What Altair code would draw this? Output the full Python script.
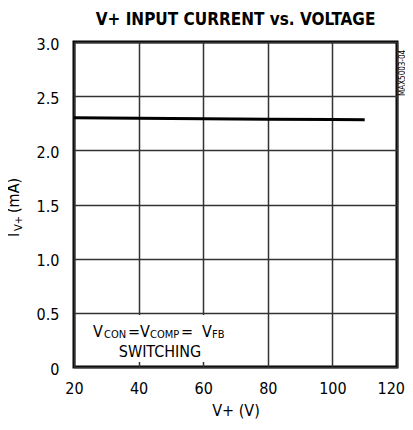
import altair as alt
import pandas as pd

# data
voltage = [20, 40, 60, 80, 100, 110]
current = [2.30, 2.296, 2.292, 2.288, 2.284, 2.282]

x_ticks = [20, 40, 60, 80, 100, 120]
y_ticks = [0, 0.5, 1.0, 1.5, 2.0, 2.5, 3.0]

df = pd.DataFrame({"v": voltage, "i": current})
one = pd.DataFrame({"a": [0]})

FONT = "Liberation Sans Narrow, DejaVu Sans Condensed, Roboto Condensed, Liberation Sans, sans-serif"
W, H = 323, 325

base = alt.Chart(df)

line = base.mark_line(color="black", strokeWidth=3).encode(
    x=alt.X("v:Q", scale=alt.Scale(domain=[20, 120], nice=False),
            axis=alt.Axis(values=x_ticks, title="V+ (V)", grid=True, ticks=False,
                          domain=False, labelFont=FONT, labelFontSize=16,
                          labelPadding=13, labelFlush=False,
                          labelExpr="datum.value == 120 ? '' : datum.label",
                          titleFont=FONT, titleFontSize=16,
                          titleFontWeight="normal", titlePadding=6,
                          labelColor="black", titleColor="black",
                          gridColor="#333", gridWidth=1.5)),
    y=alt.Y("i:Q", scale=alt.Scale(domain=[0, 3], nice=False),
            axis=alt.Axis(values=y_ticks, title=None, grid=True, ticks=False,
                          domain=False, labelFont=FONT, labelFontSize=16,
                          labelPadding=15, labelFlush=False, labelOffset=2,
                          labelColor="black",
                          labelExpr="datum.value == 0 ? '0' : format(datum.value, '.1f')",
                          gridColor="#333", gridWidth=1.5)),
)

# white box behind the annotation text
box = alt.Chart(one).mark_rect(color="white").encode(
    x=alt.value(14), x2=alt.value(156), y=alt.value(273), y2=alt.value(320)
)

def txt(s, x, y, size, angle=0, align="left", baseline="alphabetic"):
    return alt.Chart(one).mark_text(
        text=s, font=FONT, fontSize=size, align=align, baseline=baseline,
        angle=angle, color="black"
    ).encode(x=alt.value(x), y=alt.value(y))

ox, oy = 74, 42  # plot origin on page
ann = [
    txt("V", 93 - ox, 337 - oy, 16),
    txt("CON", 104 - ox, 338 - oy, 11),
    txt("=", 134 - ox, 337 - oy, 16, align="center"),
    txt("V", 140 - ox, 337 - oy, 16),
    txt("COMP", 150 - ox, 338 - oy, 11),
    txt("=", 187 - ox, 337 - oy, 16, align="center"),
    txt("V", 202 - ox, 337 - oy, 16),
    txt("FB", 212 - ox, 338 - oy, 11),
    txt("SWITCHING", 160 - ox, 357 - oy, 16, align="center"),
    # last x tick label, kept inside the page
    txt(str(x_ticks[-1]), 405 - ox, 381 - oy, 16, align="right", baseline="top"),
    # y-axis title with subscript
    txt("I", 19 - ox, 237 - oy, 16, angle=270),
    txt("V+", 22 - ox, 231 - oy, 11, angle=270),
    txt("(mA)", 19 - ox, 213 - oy, 16, angle=270),
    # side label
    txt("MAX5003-04", 405 - ox, 96 - oy, 8, angle=270),
]

chart = alt.layer(line, box, *ann).properties(
    width=W, height=H,
    title=alt.TitleParams("V+ INPUT CURRENT vs. VOLTAGE", font=FONT, fontSize=17,
                          fontWeight="bold", anchor="middle", frame="group",
                          offset=7, color="black"),
    padding={"left": 66, "top": 34, "right": 8, "bottom": 52},
    autosize=alt.AutoSizeParams(type="none"),
).configure_view(stroke="black", strokeWidth=3)

chart.save("out.html", embed_options={"renderer": "svg", "actions": False})
